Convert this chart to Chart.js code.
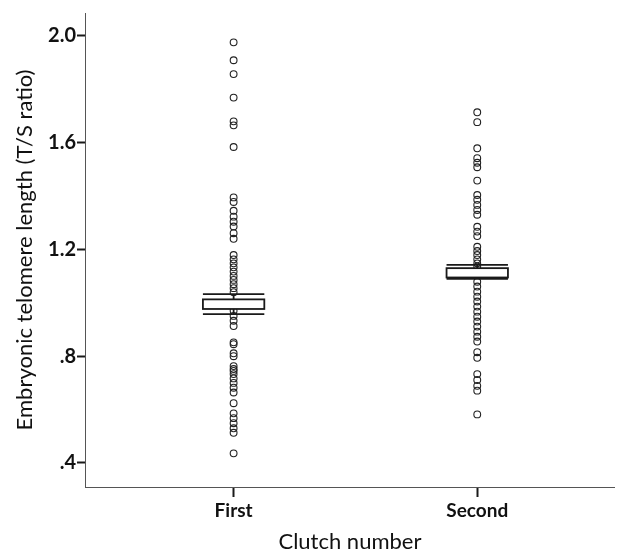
<!DOCTYPE html>
<html>
<head>
<meta charset="utf-8">
<script src="https://cdn.jsdelivr.net/npm/chart.js@4"></script>
<style>
  html, body { margin: 0; padding: 0; background: #fff; }
  #wrap { width: 620px; height: 555px; }
</style>
</head>
<body>
<div id="wrap"><canvas id="chart"></canvas></div>
<script>
// ---- data ----
const categories = ['First', 'Second'];
const yTicks = [0.4, 0.8, 1.2, 1.6, 2.0];

const firstValues = [1.976, 1.909, 1.857, 1.769, 1.680, 1.665, 1.584, 1.395, 1.378,
    1.345, 1.323, 1.304, 1.286, 1.261, 1.240, 1.179, 1.163, 1.148, 1.133, 1.117,
    1.101, 1.086, 1.070, 1.055, 1.040, 1.000, 0.970, 0.951, 0.933, 0.913, 0.852,
    0.845, 0.811, 0.800, 0.763, 0.752, 0.745, 0.733, 0.717, 0.700, 0.682, 0.664,
    0.624, 0.586, 0.568, 0.549, 0.530, 0.513, 0.436];
const secondValues = [1.714, 1.677, 1.579, 1.542, 1.525, 1.508, 1.458, 1.404, 1.386,
    1.367, 1.348, 1.330, 1.285, 1.267, 1.250, 1.210, 1.194, 1.179, 1.163, 1.148,
    1.136, 1.110, 1.079, 1.061, 1.042, 1.023, 1.005, 0.986, 0.967, 0.948, 0.930,
    0.911, 0.892, 0.873, 0.855, 0.815, 0.794, 0.733, 0.711, 0.689, 0.671, 0.582];

// box (inner) and whisker limits per clutch
const boxLow = [0.977, 1.095];
const boxHigh = [1.013, 1.130];
const whiskerLow = [0.958, 1.090];
const whiskerHigh = [1.033, 1.142];

// ---- style ----
const BOX_HALF = 0.126;   // in category units
const INK = '#1a1a1a';

const boxPlugin = {
    id: 'boxes',
    afterDatasetsDraw(chart) {
        const { ctx, scales: { x, y } } = chart;
        ctx.save();
        categories.forEach((c, i) => {
            const x0 = x.getPixelForValue(i - BOX_HALF);
            const x1 = x.getPixelForValue(i + BOX_HALF);
            const xc = x.getPixelForValue(i);
            const yb0 = y.getPixelForValue(boxHigh[i]);
            const yb1 = y.getPixelForValue(boxLow[i]);
            const yw0 = y.getPixelForValue(whiskerHigh[i]);
            const yw1 = y.getPixelForValue(whiskerLow[i]);
            ctx.strokeStyle = INK;
            ctx.lineWidth = 1.8;
            // connectors
            ctx.beginPath();
            ctx.moveTo(xc, yw0); ctx.lineTo(xc, yb0);
            ctx.moveTo(xc, yb1); ctx.lineTo(xc, yw1);
            ctx.stroke();
            // whisker bars
            ctx.beginPath();
            ctx.moveTo(x0, yw0); ctx.lineTo(x1, yw0);
            ctx.moveTo(x0, yw1); ctx.lineTo(x1, yw1);
            ctx.stroke();
            // box
            ctx.fillStyle = '#fff';
            ctx.fillRect(x0, yb0, x1 - x0, yb1 - yb0);
            ctx.strokeRect(x0, yb0, x1 - x0, yb1 - yb0);
        });
        ctx.restore();
    }
};

const pointStyle = {
    pointStyle: 'circle',
    pointRadius: 3.4,
    pointBorderWidth: 1.1,
    pointBorderColor: '#222',
    pointBackgroundColor: 'rgba(255,255,255,0)',
    showLine: false
};

new Chart(document.getElementById('chart'), {
    type: 'scatter',
    data: {
        datasets: [
            Object.assign({ label: categories[0], data: firstValues.map(v => ({ x: 0, y: v })) }, pointStyle),
            Object.assign({ label: categories[1], data: secondValues.map(v => ({ x: 1, y: v })) }, pointStyle)
        ]
    },
    options: {
        responsive: true,
        maintainAspectRatio: false,
        animation: false,
        layout: { padding: { top: 13, right: 0, left: 0, bottom: 0 } },
        plugins: { legend: { display: false }, tooltip: { enabled: false } },
        scales: {
            x: {
                type: 'linear',
                min: -0.61,
                max: 1.565,
                afterBuildTicks: s => { s.ticks = categories.map((c, i) => ({ value: i })); },
                afterFit: s => { s.height = 68; },
                ticks: {
                    callback: v => categories[v],
                    color: '#111',
                    padding: 2,
                    font: { family: 'Lato', size: 19, weight: 'bold' }
                },
                grid: { display: true, drawOnChartArea: false, drawTicks: true, tickLength: 10, tickWidth: 2, tickColor: INK },
                border: { display: true, color: '#555', width: 1 },
                title: {
                    display: true,
                    text: 'Clutch number',
                    color: '#111',
                    padding: { top: 6, bottom: 0 },
                    font: { family: 'Lato', size: 22 }
                }
            },
            y: {
                type: 'linear',
                min: 0.31,
                max: 2.086,
                afterBuildTicks: s => { s.ticks = yTicks.map(v => ({ value: v })); },
                afterFit: s => { s.width = 85; },
                ticks: {
                    callback: v => v < 1 ? v.toFixed(1).replace(/^0/, '') : v.toFixed(1),
                    color: '#111',
                    padding: 1,
                    font: { family: 'Lato', size: 20, weight: 'bold' }
                },
                grid: { display: true, drawOnChartArea: false, drawTicks: true, tickLength: 8, tickWidth: 2, tickColor: INK },
                border: { display: true, color: '#555', width: 1 },
                title: {
                    display: true,
                    text: 'Embryonic telomere length (T/S ratio)',
                    color: '#111',
                    padding: { top: 12, bottom: 0 },
                    font: { family: 'Lato', size: 22 }
                }
            }
        }
    },
    plugins: [boxPlugin]
});
</script>
</body>
</html>
